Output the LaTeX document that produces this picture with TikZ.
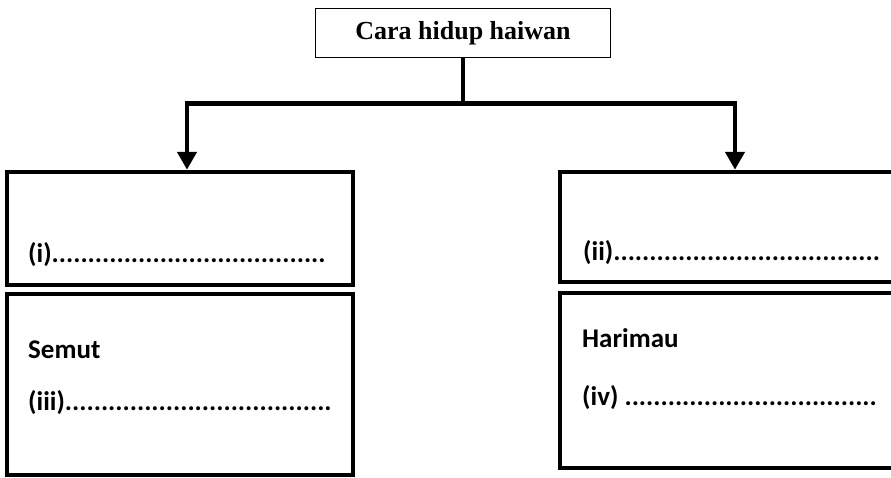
\documentclass[tikz,border=0pt]{standalone}
\usepackage{fontspec}
\setmainfont{Liberation Serif}
\newfontfamily\labelfont{Carlito}
\usepackage{tikz}
\usetikzlibrary{arrows.meta}

\begin{document}
\begin{tikzpicture}[x=1pt, y=-1pt,
  box/.style={draw, line width=4.5pt, inner sep=0pt},
  link/.style={line width=4.5pt, -{Triangle[width=19pt, length=18pt]}},
  lbl/.style={anchor=base west, inner sep=0pt, font=\labelfont\bfseries\fontsize{27}{32}\selectfont}]

\clip (0,0) rectangle (891,477);

% Title
\draw (463,33) node [draw, line width=1.6pt, minimum width=295pt, minimum height=49pt, font=\bfseries\fontsize{26}{31}\selectfont] (top) {Cara hidup haiwan};

% Boxes
\draw (180,228.5) node [box, minimum width=346pt, minimum height=113pt] (boxi) {};
\draw (180,384.5) node [box, minimum width=346pt, minimum height=181pt] (boxiii) {};
\draw (732.5,227) node [box, minimum width=345pt, minimum height=110pt] (boxii) {};
\draw (732.5,380.5) node [box, minimum width=345pt, minimum height=175pt] (boxiv) {};

% Arrows
\draw [line width=4.5pt] (top.south) -- ++(0,45) coordinate (fork);
\draw [link] (fork) -| ([xshift=7pt]boxi.north);
\draw [link] (fork) -| ([xshift=2.5pt]boxii.north);

% Labels
\draw (28,262) node [lbl] (li) {(i)......................................};
\draw (583,260) node [lbl] (lii) {(ii).....................................};
\draw (28,358) node [lbl] (semut) {Semut};
\draw (28,410) node [lbl] (liii) {(iii).....................................};
\draw (582,347) node [lbl] (harimau) {Harimau};
\draw (582,405) node [lbl] (liv) {(iv) ...................................};

\end{tikzpicture}
\end{document}
